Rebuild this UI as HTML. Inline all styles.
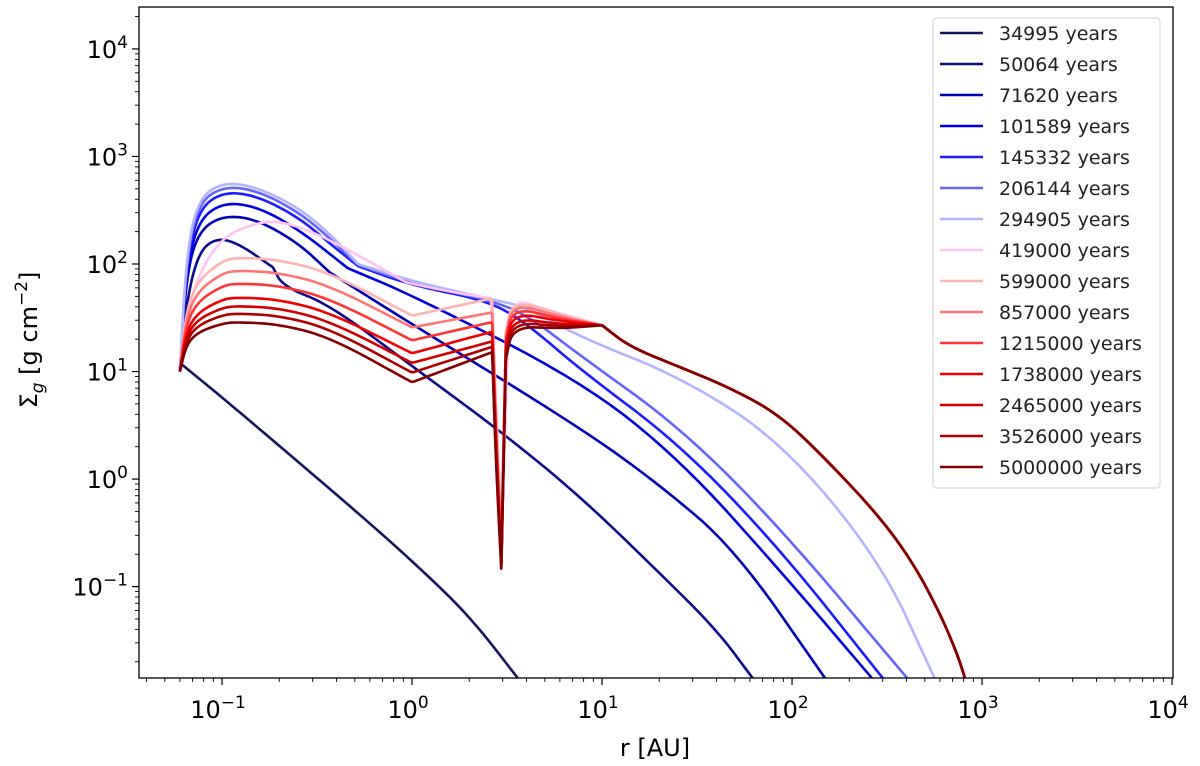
<!DOCTYPE html>
<html><head><meta charset="utf-8"><style>
html,body{margin:0;padding:0;background:#fff;}
svg{display:block;font-family:"DejaVu Sans","Liberation Sans",sans-serif;}
</style></head><body>
<svg id="chart" width="1200" height="766" viewBox="0 0 1200 766" xmlns="http://www.w3.org/2000/svg">
<g id="plot"></g>
<g id="axes"></g>
<g id="legend"></g>
</svg>
<script>
// ---- data (r in AU, Sigma in g cm^-2 given as log10) ----
const labels = ["34995 years","50064 years","71620 years","101589 years","145332 years","206144 years","294905 years","419000 years","599000 years","857000 years","1215000 years","1738000 years","2465000 years","3526000 years","5000000 years"];
const colors = ["#15155e","#0c0c8a","#0000b4","#0000dc","#1c1cff","#6464ff","#b4b4ff","#ffc4f2","#ffb4b4","#ff7474","#ff3434","#f00000","#d00000","#ac0000","#820000"];
const tailR = [10,14,25.8,47,86.5,158,290,434,601,738,813];
const tailL = [1.43,1.23,1.04,0.85,0.595,0.148,-0.354,-0.78,-1.25,-1.62,-1.85];
const s1R = [0.06,0.1,0.2,0.5,1,2,3.6];
const s1L = [1.08,0.76,0.31,-0.29,-0.76,-1.27,-1.85];
const s2R = [0.06,0.065,0.075,0.092,0.12,0.185,0.21,0.37,1,3.0,7.66,20,40,62];
const s2L = [1,1.65,2.1,2.24,2.2,1.97,1.79,1.62,1.05,0.43,-0.16,-0.87,-1.4,-1.85];
const s3R = [0.06,0.065,0.075,0.1,0.15,0.25,0.37,1,7.66,20,50,149];
const s3L = [1,1.9,2.3,2.45,2.42,2.2,1.92,1.44,0.48,-0.05,-0.65,-1.85];
const s4R = [0.06,0.065,0.075,0.1,0.15,0.25,0.46,1,7.66,25.8,86.5,263];
const s4L = [1,1.95,2.4,2.57,2.54,2.33,1.96,1.71,0.92,0.18,-0.85,-1.85];
const s5R = [0.06,0.065,0.075,0.1,0.15,0.25,0.37,0.52,1,2.5,4,7.66,25.8,86.5,300];
const s5L = [1,2.0,2.5,2.67,2.64,2.44,2.19,1.98,1.80,1.66,1.45,1.02,0.32,-0.65,-1.85];
const s6R = [0.06,0.065,0.075,0.1,0.15,0.25,0.37,0.52,1,2.5,4,7.66,25.8,86.5,403];
const s6L = [1,2.05,2.56,2.72,2.69,2.49,2.24,1.99,1.82,1.67,1.53,1.15,0.48,-0.45,-1.85];
const s7R = [0.06,0.065,0.075,0.1,0.15,0.25,0.37,0.52,1,2.5,4,7.66,25.8,86.5,290,562];
const s7L = [1,2.1,2.6,2.76,2.72,2.53,2.28,2.0,1.84,1.68,1.60,1.32,0.95,0.36,-0.75,-1.85];
const s8R = [0.06,0.065,0.075,0.1,0.15,0.2,0.3,0.5,0.93,1.5,2.6,2.75,2.95,3.2,3.4,5];
const s8L = [1,1.5,1.9,2.25,2.38,2.4,2.3,2.1,1.83,1.75,1.68,0.9,-0.6,1.3,1.68,1.58];
// red series: peak value, value at r=1, value at r=2.64, dip min, value after dip at 3.4, value at 6
const redPeak  = [2.06,1.94,1.82,1.69,1.61,1.54,1.46];
const redAt1   = [1.52,1.41,1.29,1.17,1.08,0.99,0.90];
const redAt264 = [1.68,1.55,1.46,1.37,1.28,1.23,1.18];
const redDip   = [-0.6,-0.65,-0.7,-0.75,-0.8,-0.82,-0.85];
const redAfter = [1.67,1.64,1.60,1.55,1.50,1.46,1.42];
const redAt6   = [1.53,1.51,1.49,1.47,1.44,1.42,1.40];
// radii where each curve has a sharp corner
const cornersBlue = [[],[0.185],[0.37],[0.46],[0.52],[0.52],[0.52],[0.93,2.6,2.95,3.2,10]];
const cornersRed = [1,2.64,2.95,3.12,10];

// ---- axes ----
const X0=139, X1=1173, Y0=7, Y1=678;
const xMin=-1.437, xMax=4.005, yMin=-1.85, yMax=4.39;
const xs = r => X0 + (Math.log10(r)-xMin)/(xMax-xMin)*(X1-X0);
const ys = l => Y0 + (yMax-l)/(yMax-yMin)*(Y1-Y0);
const NS="http://www.w3.org/2000/svg";
function mk(tag, attrs, parent){const e=document.createElementNS(NS,tag);for(const k in attrs)e.setAttribute(k,attrs[k]);parent.appendChild(e);return e;}

function buildSeries(){
  const S=[[s1R,s1L],[s2R,s2L],[s3R,s3L],[s4R,s4L],[s5R,s5L],[s6R,s6L],[s7R,s7L],[s8R.concat(tailR),s8L.concat(tailL)]];
  for(let i=0;i<redPeak.length;i++){
    const p=redPeak[i];
    const R=[0.06,0.065,0.075,0.1,0.12,0.2,0.37,1,2.64,2.76,2.95,3.12,3.4,6];
    const L=[1,1+(p-1)*0.55,1+(p-1)*0.8,1+(p-1)*0.97,p,p-0.02,p-0.14,redAt1[i],redAt264[i],redAt264[i]-1.0,redDip[i],redAfter[i]-0.3,redAfter[i],redAt6[i]];
    S.push([R.concat(tailR),L.concat(tailL)]);
  }
  return S;
}
function chaikin(pts,iter){
  let p=pts;
  for(let k=0;k<iter;k++){
    const q=[p[0]];
    for(let i=0;i<p.length-1;i++){
      const a=p[i],b=p[i+1];
      if(a[0]===b[0]&&a[1]===b[1]){q.push(a);continue;}
      q.push([0.75*a[0]+0.25*b[0],0.75*a[1]+0.25*b[1]]);
      q.push([0.25*a[0]+0.75*b[0],0.25*a[1]+0.75*b[1]]);
    }
    q.push(p[p.length-1]);
    p=q;
  }
  return p;
}
const plot=document.getElementById('plot');
const clip=mk('clipPath',{id:'clp'},mk('defs',{},document.getElementById('chart')));
mk('rect',{x:X0,y:Y0,width:X1-X0,height:Y1-Y0},clip);
plot.setAttribute('clip-path','url(#clp)');
const series=buildSeries();
series.forEach((s,i)=>{
  const corners = i<8 ? cornersBlue[i] : cornersRed;
  const raw=[];
  s[0].forEach((r,j)=>{
    const pt=[xs(r),ys(s[1][j])];
    raw.push(pt);
    if(corners.indexOf(r)>=0){raw.push([pt[0],pt[1]]);raw.push([pt[0],pt[1]]);}
  });
  const pts=chaikin(raw,3);
  const d='M'+pts.map(p=>p[0].toFixed(2)+','+p[1].toFixed(2)).join('L');
  const p=mk('path',{d:d,fill:'none',stroke:colors[i],'stroke-width':2.6,'stroke-linejoin':'round'},plot);
  
  
});

// frame & ticks
const ax=document.getElementById('axes');
const fr=mk('rect',{x:X0,y:Y0,width:X1-X0,height:Y1-Y0,fill:'none',stroke:'#000','stroke-width':1.3},ax);


const xTickExp=[-1,0,1,2,3,4];
const yTickExp=[-1,0,1,2,3,4];
const xTickLabels=["\u22121","0","1","2","3","4"];
const yTickLabels=["\u22121","0","1","2","3","4"];
for(let d=-2; d<=4; d++){
  for(let k=1;k<10;k++){
    const lx=d+Math.log10(k);
    if(lx<xMin||lx>xMax) continue;
    const x=X0+(lx-xMin)/(xMax-xMin)*(X1-X0);
    mk('line',{x1:x,x2:x,y1:Y1,y2:Y1+(k===1?7:4),stroke:'#000','stroke-width':k===1?1.2:0.9},ax);
  }
}
for(let d=-2; d<=4; d++){
  for(let k=1;k<10;k++){
    const ly=d+Math.log10(k);
    if(ly<yMin||ly>yMax) continue;
    const y=ys(ly);
    mk('line',{x1:X0,x2:X0-(k===1?7:4),y1:y,y2:y,stroke:'#000','stroke-width':k===1?1.2:0.9},ax);
  }
}
xTickExp.forEach((e,i)=>{
  const t=mk('text',{x:xs(Math.pow(10,e))-4,y:718,'text-anchor':'middle','font-size':24,fill:'#000'},ax);
  
  
  t.innerHTML='10<tspan dy="-10" font-size="17">'+xTickLabels[i]+'</tspan>';
});
yTickExp.forEach((e,i)=>{
  const t=mk('text',{x:128,y:ys(e)+9,'text-anchor':'end','font-size':24,fill:'#000'},ax);
  
  
  t.innerHTML='10<tspan dy="-10" font-size="17">'+yTickLabels[i]+'</tspan>';
});
const xl=mk('text',{x:655,y:756,'text-anchor':'middle','font-size':24,fill:'#000'},ax);


xl.textContent='r [AU]';
const yl=mk('text',{x:0,y:0,'text-anchor':'middle','font-size':24,fill:'#000',transform:'translate(37,340) rotate(-90)'},ax);


yl.innerHTML='\u03A3<tspan dy="6" font-size="17" font-style="italic">g</tspan><tspan dy="-6"> [g cm</tspan><tspan dy="-10" font-size="17">\u22122</tspan><tspan dy="10">]</tspan>';

// legend
const lg=document.getElementById('legend');
const lb=mk('rect',{x:933,y:18,width:227,height:470,rx:4,fill:'#fff','fill-opacity':0.8,stroke:'#d8d8d8','stroke-width':1.2},lg);


labels.forEach((l,i)=>{
  const y=33+31*i;
  const g=mk('g',{},lg);
  
  
  mk('line',{x1:940,x2:983,y1:y,y2:y,stroke:colors[i],'stroke-width':2.6},g);
  const t=mk('text',{x:999,y:y+7,'font-size':19,fill:'#222'},g);
  t.textContent=l;
});
</script>
</body></html>
